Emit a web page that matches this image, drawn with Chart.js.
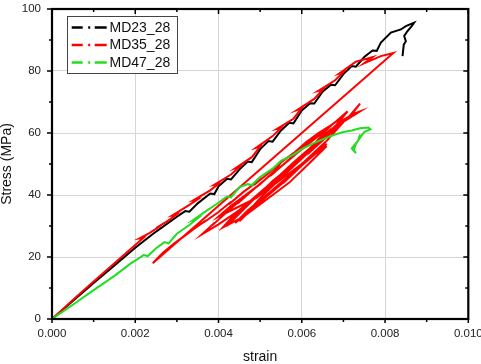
<!DOCTYPE html>
<html>
<head>
<meta charset="utf-8">
<script src="https://cdn.jsdelivr.net/npm/chart.js@4"></script>
<style>
  html, body { margin: 0; padding: 0; background: #fff; }
  #wrap { width: 481px; height: 364px; position: relative; }
</style>
</head>
<body>
<div id="wrap"><canvas id="c" width="481" height="364"></canvas></div>
<script>
// ---- Data (strain, stress in MPa) ----
const seriesNames = ['MD23_28', 'MD35_28', 'MD47_28'];
const xTickValues = [0, 0.002, 0.004, 0.006, 0.008, 0.010];
const yTickValues = [0, 20, 40, 60, 80, 100];

const md23_28 = [
  [0,0],[0.0005,5.8],[0.001,11.6],[0.0015,17.3],[0.002,23],[0.0025,28.2],[0.003,33],[0.0032,34.8],
  [0.0033,34.6],[0.0035,37.3],[0.0038,40.5],[0.0039,40.3],[0.004,42.8],[0.0042,45.2],[0.0043,45],
  [0.0045,48.2],[0.0047,50.8],[0.0048,50.6],[0.005,54.8],[0.0052,57.4],[0.0053,57.2],[0.0055,60.8],
  [0.0057,63.3],[0.0058,63.1],[0.006,67.3],[0.0062,69.6],[0.0063,69.5],[0.0065,73.3],[0.0067,75.6],
  [0.0068,75.4],[0.007,79],[0.0072,81.6],[0.0073,81.4],[0.0075,84.5],[0.0077,86.6],[0.0078,86.5],
  [0.0079,89.2],[0.00814,92.4],[0.00838,93.4],[0.0085,94.5],[0.0087,95.6],[0.00865,94.6],
  [0.00854,92.9],[0.00846,91.3],[0.0085,89.6],[0.00845,88.5],[0.00842,84.8]
];

const md35_28 = [
  // first loading branch
  [0,0],[0.0005,6.1],[0.001,12.1],[0.0015,18],[0.002,23.9],[0.0022,26.2],[0.0021,26],[0.00235,27.8],
  [0.0026,30],[0.0025,29.3],[0.0028,31.8],[0.003,33.8],[0.0029,33.5],[0.0033,36.8],[0.0035,38.6],
  [0.0034,38.3],[0.0038,41.5],[0.004,43.6],[0.0039,43.3],[0.0043,46.6],[0.0045,49],[0.0044,48.6],
  [0.0048,52.2],[0.005,55.6],[0.0049,55.2],[0.0053,59],[0.0055,61.6],[0.0054,61.3],[0.0058,64.6],
  [0.006,68],[0.0059,67.5],[0.0063,71],[0.0065,74],[0.0064,73.6],[0.0068,77],[0.007,79.6],
  [0.0069,79.2],[0.0073,83],[0.0077,84.5],[0.0075,82.5],[0.0079,84.8],[0.0082,85.8],
  // drop back
  [0.00242,18],
  // cycles
  [0.0026,20.5],[0.0027,21.8],[0.00265,21.2],[0.0029,24],[0.0031,26],[0.00305,25.4],[0.0034,29],
  [0.0037,31.8],[0.00365,31.2],[0.004,34.5],[0.0043,37.8],[0.00425,37],[0.0046,41],[0.0049,44],
  [0.00485,43.2],[0.0052,47],[0.0055,50.5],[0.0058,53.5],[0.00575,52.8],[0.0061,57],[0.0064,60],[0.0067,62.5],
  [0.0063,56.5],[0.0058,50],[0.0053,44.5],[0.0048,38],[0.0042,30],
  [0.0044,33.5],[0.00435,32.5],[0.0047,37],[0.005,40.5],[0.00495,39.8],[0.0054,45],[0.0058,50.2],
  [0.00575,49.5],[0.0062,55],[0.0066,60],[0.00655,59],[0.0069,63.5],[0.0071,65],[0.00705,64],[0.0074,69.5],
  [0.0072,66],[0.0074,67],[0.0069,62.8],
  [0.0064,57.5],[0.0058,50.5],[0.0052,43],[0.0046,36],[0.004,30.5],[0.0036,27.3],
  [0.0039,31],[0.00385,30.2],[0.0042,34.5],[0.0045,38],[0.00445,37.2],[0.0049,42.5],[0.0053,47],
  [0.00525,46.2],[0.0057,51.5],[0.006,55],[0.00595,54.2],[0.0064,59],[0.0068,63.5],[0.0071,67],
  [0.0067,60.5],[0.0061,53],[0.0055,45.5],[0.005,39],[0.0045,31.5],
  [0.0048,35.5],[0.00475,34.8],[0.0052,40],[0.0056,44.5],[0.00555,43.8],[0.006,49.5],[0.0063,53],[0.0066,55.8],
  [0.0062,50.5],[0.0057,44],[0.0051,38],[0.0046,33],[0.0041,29.5],
  [0.0044,34],[0.0047,37.5],[0.00465,36.8],[0.0051,42],[0.0055,46.5],[0.00545,45.5],[0.0059,51],
  [0.0063,55.5],[0.00625,54.5],[0.0067,60],[0.007,63.5],
  [0.0066,57.5],[0.006,50],[0.0054,42.5],[0.0049,36.5],[0.0044,31],
  [0.0047,35],[0.0051,39.5],[0.00505,38.8],[0.0055,44],[0.0059,48.5],[0.00585,47.8],[0.0063,53],[0.0066,56.5],
  [0.0061,51],[0.0055,45],[0.0049,39],[0.0043,35],[0.004,33],
  [0.0043,36.5],[0.0046,39.5],[0.00455,39],[0.005,43.5],[0.0054,48.5],[0.00535,47.5],[0.0058,52.5],
  [0.0062,57.5],[0.0065,60.5],[0.0068,63.5],[0.007,64.5]
];

const md47_28 = [
  [0,0],[0.0005,4.6],[0.001,9.3],[0.0015,13.9],[0.0019,18],[0.002,18.8],[0.0022,20.6],[0.0023,20.3],
  [0.0025,22.8],[0.0027,24.8],[0.0028,24.4],[0.003,27.5],[0.0033,30.3],[0.0035,32.5],[0.0034,32],
  [0.0037,34.8],[0.004,37.5],[0.0042,39.5],[0.0043,39.2],[0.0045,42.5],[0.0047,43.5],[0.0048,43.2],
  [0.005,45.8],[0.0053,48.5],[0.0055,51],[0.0058,53],[0.006,54.8],[0.0063,56.8],[0.0066,58.5],
  [0.0068,59.5],[0.007,60.3],[0.0072,60.8],[0.0074,61.5],[0.0076,61.8],[0.00765,61.2],[0.0075,60.3],
  [0.0074,58.5],[0.0073,56.5],[0.00725,54.5],[0.0073,53.5],[0.0072,55],[0.00735,57.5],[0.0074,59.5]
];

const seriesColors = ['#000000', '#ff0000', '#22dd22'];
const seriesOrder = [2, 1, 0];
const seriesData = [md23_28, md35_28, md47_28];

const FONT = "'Liberation Sans', Arial, sans-serif";

// ---- plugin: frame, ticks and legend ----
const decorPlugin = {
  id: 'decor',
  afterDatasetsDraw(chart) {
    const ctx = chart.ctx;
    const a = chart.chartArea;
    const xs = chart.scales.x, ys = chart.scales.y;
    ctx.save();
    ctx.strokeStyle = '#000';
    ctx.lineWidth = 1.5;
    ctx.beginPath();
    for (let i = 0; i < xTickValues.length; i++) {
      const v = xTickValues[i];
      const p = xs.getPixelForValue(v);
      ctx.moveTo(p, a.bottom); ctx.lineTo(p, a.bottom + 4);
      ctx.moveTo(p, a.top); ctx.lineTo(p, a.top + 5);
      if (i < xTickValues.length - 1) {
        const m = xs.getPixelForValue((v + xTickValues[i + 1]) / 2);
        ctx.moveTo(m, a.bottom); ctx.lineTo(m, a.bottom + 3);
        ctx.moveTo(m, a.top); ctx.lineTo(m, a.top + 3);
      }
    }
    for (let i = 0; i < yTickValues.length; i++) {
      const v = yTickValues[i];
      const p = ys.getPixelForValue(v);
      ctx.moveTo(a.left, p); ctx.lineTo(a.left - 5, p);
      ctx.moveTo(a.right, p); ctx.lineTo(a.right - 5, p);
      if (i < yTickValues.length - 1) {
        const m = ys.getPixelForValue((v + yTickValues[i + 1]) / 2);
        ctx.moveTo(a.left, m); ctx.lineTo(a.left - 3, m);
        ctx.moveTo(a.right, m); ctx.lineTo(a.right - 3, m);
      }
    }
    ctx.stroke();
    ctx.lineWidth = 2.2;
    ctx.strokeRect(a.left, a.top, a.right - a.left, a.bottom - a.top);

    // legend
    const bx = 67.5, by = 16.5, bw = 110, bh = 57;
    ctx.fillStyle = '#fff';
    ctx.fillRect(bx, by, bw, bh);
    ctx.lineWidth = 1;
    ctx.strokeStyle = '#444';
    ctx.strokeRect(bx, by, bw, bh);
    const rows = [27.5, 45, 62.5];
    chart.data.datasets.forEach((ds, i) => {
      const y = rows[i];
      ctx.strokeStyle = ds.borderColor;
      ctx.lineWidth = 2.5;
      ctx.setLineDash([11, 5.5, 2, 4.5, 12, 100]);
      ctx.beginPath();
      ctx.moveTo(71.7, y); ctx.lineTo(106.7, y);
      ctx.stroke();
      ctx.setLineDash([]);
      ctx.fillStyle = '#111';
      ctx.font = '14px ' + FONT;
      ctx.textBaseline = 'middle';
      ctx.textAlign = 'left';
      ctx.fillText(ds.label, 109.5, y + 0.5);
    });
    ctx.restore();
  }
};

const datasets = seriesNames.map((name, i) => ({
  label: name,
  data: seriesData[i].map(p => ({ x: p[0], y: p[1] })),
  borderColor: seriesColors[i],
  backgroundColor: seriesColors[i],
  borderWidth: 2,
  pointRadius: 0,
  showLine: true,
  tension: 0,
  fill: false,
  order: seriesOrder[i]
}));

new Chart(document.getElementById('c'), {
  type: 'scatter',
  data: { datasets },
  plugins: [decorPlugin],
  options: {
    responsive: false,
    animation: false,
    devicePixelRatio: 1,
    layout: { padding: { top: 9, right: 12.7, left: 0, bottom: 0 } },
    plugins: { legend: { display: false }, tooltip: { enabled: false } },
    scales: {
      x: {
        type: 'linear', min: 0, max: 0.01,
        afterBuildTicks: s => { s.ticks = xTickValues.map(v => ({ value: v })); },
        afterFit: s => { s.height = 45; s.paddingLeft = 0; s.paddingRight = 0; },
        ticks: {
          callback: v => Number(v).toFixed(3),
          color: '#222', padding: 8, maxRotation: 0, autoSkip: false,
          font: { family: FONT, size: 11.5 }
        },
        grid: { color: '#d6d6d6', lineWidth: 1, drawTicks: false },
        border: { display: false },
        title: { display: true, text: 'strain', color: '#111',
          font: { family: FONT, size: 14, lineHeight: 1 }, padding: { top: 0, bottom: 0 } }
      },
      y: {
        type: 'linear', min: 0, max: 100,
        afterBuildTicks: s => { s.ticks = yTickValues.map(v => ({ value: v })); },
        afterFit: s => { s.width = 52; s.paddingTop = 0; s.paddingBottom = 0; },
        ticks: {
          color: '#222', padding: 11,
          font: { family: FONT, size: 11.5 }
        },
        grid: { color: '#d6d6d6', lineWidth: 1, drawTicks: false },
        border: { display: false },
        title: { display: true, text: 'Stress (MPa)', color: '#111',
          font: { family: FONT, size: 14, lineHeight: 1 }, padding: { top: 0, bottom: 0 } }
      }
    }
  }
});
</script>
</body>
</html>
